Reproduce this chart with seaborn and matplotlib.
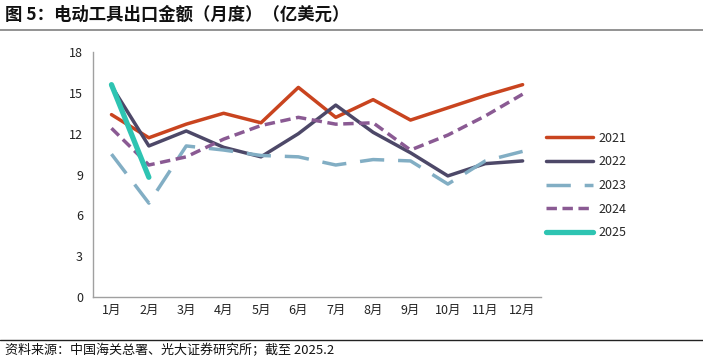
import matplotlib
matplotlib.use("Agg")
import matplotlib.pyplot as plt
import seaborn as sns
import pandas as pd
import numpy as np

months = ["1月", "2月", "3月", "4月", "5月", "6月", "7月", "8月", "9月", "10月", "11月", "12月"]
years = ["2021", "2022", "2023", "2024", "2025"]
v2021 = [13.4, 11.7, 12.7, 13.5, 12.8, 15.4, 13.2, 14.5, 13.0, 13.9, 14.8, 15.6]
v2022 = [15.5, 11.1, 12.2, 11.0, 10.3, 12.0, 14.1, 12.1, 10.6, 8.9, 9.8, 10.0]
v2023 = [10.5, 6.9, 11.1, 10.8, 10.4, 10.3, 9.7, 10.1, 10.0, 8.3, 10.0, 10.7]
v2024 = [12.4, 9.7, 10.3, 11.6, 12.6, 13.2, 12.7, 12.8, 10.8, 11.9, 13.3, 14.9]
v2025 = [15.6, 8.8]
yticks = [0, 3, 6, 9, 12, 15, 18]

series = [v2021, v2022, v2023, v2024, v2025]
colors = ["#C9441F", "#4D4868", "#82AEC4", "#8A5A93", "#2EC4B2"]
dashes = [None, None, (7, 4), (3, 1.6), None]
widths = [2.5, 2.5, 2.5, 2.5, 3.8]

sns.set_style("white")
plt.rcParams['font.family'] = ['Noto Sans CJK SC', 'DejaVu Sans']

fig = plt.figure(figsize=(7.03, 3.61), dpi=100)
ax = fig.add_axes([0.132, 0.177, 0.638, 0.679])

for yr, vals, c, d, w in zip(years, series, colors, dashes, widths):
    df = pd.DataFrame({"x": np.arange(len(vals)), "y": vals})
    sns.lineplot(data=df, x="x", y="y", ax=ax, color=c, linewidth=w, label=yr,
                 solid_capstyle="round", dash_capstyle="butt")
    if d is not None:
        ax.lines[-1].set_dashes(d)

ax.set_xlim(-0.5, 11.5)
ax.set_ylim(0, 18)
ax.set_yticks(yticks)
ax.set_yticklabels([str(t) for t in yticks], fontsize=9, color="#222222")
ax.set_xticks(np.arange(12))
ax.set_xticklabels(months, fontsize=9, color="#222222")
ax.set_xticks(np.arange(-0.5, 12, 1), minor=True)
ax.tick_params(axis="x", which="major", length=0, pad=5)
ax.tick_params(axis="x", which="minor", direction="in", length=3, color="#999999", width=0.8)
ax.tick_params(axis="y", direction="out", length=3, color="#999999", width=0.8, pad=4)
ax.set_xlabel("")
ax.set_ylabel("")
for s in ["top", "right"]:
    ax.spines[s].set_visible(False)
for s in ["left", "bottom"]:
    ax.spines[s].set_color("#A0A0A0")
    ax.spines[s].set_linewidth(1.0)

leg = ax.legend(loc="center left", bbox_to_anchor=(1.0, 0.455), frameon=False,
                fontsize=9, handlelength=3.7, labelspacing=0.85, handletextpad=0.45,
                borderaxespad=0.0)

fig.text(0.007, 0.958, "图 5：电动工具出口金额（月度）（亿美元）", fontsize=12.5, fontweight="bold",
         va="center", ha="left", color="#111111")
fig.add_artist(plt.Line2D([0.0, 1.0], [0.917, 0.917], color="#808080", linewidth=1.2))
fig.add_artist(plt.Line2D([0.0, 1.0], [0.058, 0.058], color="#222222", linewidth=1.0))
fig.text(0.007, 0.03, "资料来源：中国海关总署、光大证券研究所；截至 2025.2", fontsize=9.4,
         va="center", ha="left", color="#111111")

fig.savefig("out.png", dpi=100)
